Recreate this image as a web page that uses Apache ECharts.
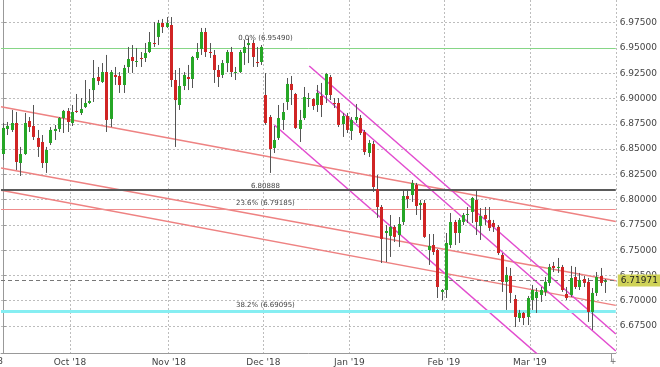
<!DOCTYPE html>
<html><head><meta charset="utf-8">
<script src="https://cdn.jsdelivr.net/npm/echarts@6/dist/echarts.min.js"></script>
<style>html,body{margin:0;padding:0;background:#fff}#c{width:660px;height:367px}</style>
</head><body><div id="c"></div>
<script>
// ---- calendar (trading days) ----
const firstDay = '2018-09-07';
const lastDay = '2019-03-28';
const holidays = ['2018-12-25', '2019-01-01'];
const monthNames = ['Jan','Feb','Mar','Apr','May','Jun','Jul','Aug','Sep','Oct','Nov','Dec'];

// ---- OHLC values (USD/CNH daily) ----
const open = [
6.8451,6.8699,6.8689,6.8758,6.8362,6.8451,6.8778,6.8728,6.8610,6.8570,6.8362,6.8560,6.8679,6.8699,6.8807,6.8877,
6.8758,6.8877,6.8857,6.8916,6.8956,6.9084,6.9213,6.9164,6.9262,6.8798,6.9233,6.9223,6.9134,6.9312,6.9411,6.9361,6.9401,6.9401,6.9460,6.9549,6.9609,6.9747,6.9707,
6.9727,6.9183,6.8936,6.9124,6.9213,6.9193,6.9401,6.9490,6.9658,6.9460,6.9431,6.9282,6.9233,6.9351,6.9460,6.9253,6.9262,6.9450,6.9529,6.9549,6.9361,6.9361,
6.9035,6.8817,6.8511,6.8610,6.8788,6.8966,6.9144,6.9045,6.8699,6.8807,6.8995,6.8995,6.8936,6.9025,6.9035,6.9213,6.8956,6.8956,6.8748,6.8827,
6.8679,6.8788,6.8807,6.8669,6.8461,6.8550,6.8105,6.7927,6.7670,6.7641,6.7730,6.7650,6.7779,6.8036,6.8046,6.8145,6.7947,6.7967,6.7502,6.7551,6.7502,6.7087,
6.7106,6.7551,6.7779,6.7670,6.7779,6.7848,6.7878,6.7997,6.7739,6.7848,6.7799,6.7769,6.7730,6.7453,6.7186,6.7245,6.7017,6.6829,6.6879,6.6839,
6.7007,6.7027,6.7057,6.7087,6.7176,6.7344,6.7324,6.7334,6.7067,6.7057,6.7235,6.7136,6.7215,6.7186,6.6889,6.7077,6.7245,6.7186
];
const close = [
6.8709,6.8729,6.8758,6.8372,6.8451,6.8758,6.8718,6.8620,6.8521,6.8362,6.8491,6.8689,6.8699,6.8807,6.8877,6.8768,
6.8867,6.8867,6.8896,6.8956,6.8976,6.9203,6.9173,6.9262,6.8788,6.9262,6.9213,6.9134,6.9302,6.9391,6.9371,6.9371,6.9391,6.9450,6.9559,6.9539,6.9747,6.9707,6.9747,
6.9183,6.8985,6.9124,6.9233,6.9193,6.9411,6.9460,6.9658,6.9460,6.9450,6.9282,6.9213,6.9351,6.9460,6.9262,6.9262,6.9460,6.9510,6.9549,6.9411,6.9351,6.9510,
6.8758,6.8501,6.8590,6.8807,6.8867,6.9144,6.9084,6.8709,6.8788,6.9015,6.9005,6.8926,6.9055,6.8936,6.9243,6.9035,6.8946,6.8738,6.8827,6.8689,
6.8788,6.8817,6.8659,6.8471,6.8560,6.8125,6.7927,6.7611,6.7690,6.7730,6.7631,6.7759,6.8036,6.8006,6.8165,6.7937,6.7967,6.7631,6.7542,6.7482,6.7136,6.7106,
6.7571,6.7779,6.7670,6.7799,6.7848,6.7858,6.8016,6.7779,6.7838,6.7809,6.7720,6.7730,6.7472,6.7186,6.7255,6.7077,6.6839,6.6879,6.6829,6.7027,
6.7106,6.7087,6.7106,6.7186,6.7334,6.7324,6.7334,6.7106,6.7027,6.7225,6.7136,6.7205,6.7176,6.6889,6.7077,6.7235,6.7176,6.71971
];
const high = [
6.8758,6.8768,6.8887,6.8867,6.8521,6.8857,6.8817,6.8936,6.8689,6.8639,6.8521,6.8718,6.8738,6.8817,6.8887,6.8906,
6.8936,6.9045,6.9005,6.9183,6.9094,6.9381,6.9312,6.9351,6.9431,6.9282,6.9312,6.9262,6.9332,6.9510,6.9529,6.9500,6.9460,6.9549,6.9658,6.9757,6.9777,6.9787,6.9806,
6.9806,6.9282,6.9302,6.9262,6.9332,6.9421,6.9549,6.9698,6.9698,6.9549,6.9480,6.9332,6.9381,6.9480,6.9510,6.9312,6.9480,6.9579,6.9599,6.9579,6.9510,6.9529,
6.9252,6.8837,6.8728,6.8936,6.8956,6.9203,6.9223,6.9055,6.8887,6.9114,6.9055,6.9005,6.9134,6.9154,6.9253,6.9233,6.9005,6.9005,6.8857,6.8857,
6.8817,6.8946,6.8837,6.8689,6.8590,6.8580,6.8244,6.7947,6.7749,6.7848,6.7749,6.7828,6.8095,6.8095,6.8194,6.8165,6.7997,6.7997,6.7660,6.7660,6.7512,6.7116,
6.7670,6.7868,6.7799,6.7818,6.7868,6.7927,6.8026,6.8095,6.7917,6.7927,6.7927,6.7799,6.7749,6.7472,6.7334,6.7324,6.7057,6.6909,6.6889,6.7047,
6.7156,6.7126,6.7136,6.7235,6.7364,6.7383,6.7423,6.7354,6.7136,6.7344,6.7334,6.7275,6.7245,6.7225,6.7126,6.7284,6.7324,6.7215
];
const low = [
6.8392,6.8639,6.8669,6.8293,6.8234,6.8442,6.8669,6.8590,6.8422,6.8313,6.8264,6.8540,6.8590,6.8669,6.8659,6.8669,
6.8728,6.8857,6.8837,6.8906,6.8946,6.8966,6.9134,6.9154,6.8669,6.8718,6.9134,6.9055,6.9055,6.9253,6.9253,6.9312,6.9312,6.9361,6.9450,6.9510,6.9529,6.9648,6.9698,
6.9114,6.8521,6.8887,6.9084,6.9084,6.9104,6.9381,6.9431,6.9411,6.9401,6.9154,6.9114,6.9203,6.9262,6.9213,6.9183,6.9253,6.9332,6.9351,6.9312,6.9312,6.9332,
6.8738,6.8264,6.8461,6.8590,6.8689,6.8887,6.8936,6.8699,6.8570,6.8788,6.8916,6.8887,6.8867,6.8817,6.8956,6.8985,6.8906,6.8718,6.8620,6.8659,
6.8590,6.8758,6.8639,6.8442,6.8422,6.8076,6.7819,6.7373,6.7383,6.7433,6.7581,6.7532,6.7749,6.7917,6.7977,6.7848,6.7799,6.7621,6.7354,6.7453,6.7027,6.7007,
6.7027,6.7522,6.7551,6.7571,6.7749,6.7769,6.7769,6.7650,6.7601,6.7749,6.7690,6.7680,6.7453,6.7087,6.6909,6.6978,6.6740,6.6790,6.6760,6.6760,
6.6909,6.6879,6.6988,6.7047,6.7146,6.7284,6.7275,6.7087,6.7007,6.7037,6.7116,6.7106,6.7136,6.6790,6.6711,6.7047,6.7146,6.7077
];

// ---- axis ----
const yMin = 6.6483, yMax = 6.99745;
const yTicks = [6.675,6.700,6.725,6.750,6.775,6.800,6.825,6.850,6.875,6.900,6.925,6.950,6.975];

// ---- drawn studies ----
const fibLevels = [
  { name: '0.0% (6.95490)', value: 6.95490 },
  { name: '6.80888', value: 6.80888 },
  { name: '23.6% (6.79185)', value: 6.79185 },
  { name: '38.2% (6.69095)', value: 6.69095 }
];
const lastPrice = 6.71971;
const dashedLevel = 6.7172;
const channelRed1 = [[-0.5, 6.8919], [142.5, 6.7784]];
const channelRed2 = [[-0.5, 6.8313], [142.5, 6.7198]];
const channelRed3 = [[-0.5, 6.8093], [142.5, 6.6954]];
const channelPink1 = [[71.2, 6.9322], [142.5, 6.6671]];
const channelPink2 = [[72.9, 6.9084], [142.5, 6.6503]];
const channelPink3 = [[63.1, 6.8738], [142.5, 6.5796]];

function tradingDays(a, b, skip) {
  const out = [];
  const d = new Date(a + 'T00:00:00Z'), end = new Date(b + 'T00:00:00Z');
  while (d <= end) {
    const wd = d.getUTCDay();
    const s = d.toISOString().slice(0, 10);
    if (wd !== 0 && wd !== 6 && skip.indexOf(s) < 0) out.push(s);
    d.setUTCDate(d.getUTCDate() + 1);
  }
  return out;
}
const categories = tradingDays(firstDay, lastDay, holidays);
const nCat = categories.length;
function isMonthStart(i) {
  return i > 0 && categories[i].slice(5, 7) !== categories[i - 1].slice(5, 7);
}
function monthLabel(v) {
  return monthNames[parseInt(v.slice(5, 7), 10) - 1] + " '" + v.slice(2, 4);
}

const FONT = 'DejaVu Sans';
const GREEN = '#26a626', RED = '#d02424', WICK = '#555';

const candleData = open.map((o, i) => [i, o, close[i], low[i], high[i]]);

function renderCandle(params, api) {
  const i = api.value(0);
  const o = api.value(1), c = api.value(2), l = api.value(3), h = api.value(4);
  const po = api.coord([i, o]), pc = api.coord([i, c]), pl = api.coord([i, l]), ph = api.coord([i, h]);
  const bw = Math.max(1, Math.round(api.size([1, 0])[0] * 0.7));
  const x = Math.round(po[0]);
  const top = Math.min(po[1], pc[1]), bot = Math.max(po[1], pc[1]);
  return {
    type: 'group',
    children: [
      { type: 'line', shape: { x1: x + 0.5, y1: ph[1], x2: x + 0.5, y2: pl[1] }, style: { stroke: WICK, lineWidth: 1 } },
      { type: 'rect', shape: { x: x + 0.5 - bw / 2, y: top, width: bw, height: Math.max(1, bot - top) }, style: { fill: c >= o ? GREEN : RED } }
    ]
  };
}

function trend(data, color, width) {
  return {
    type: 'line', xAxisIndex: 1, yAxisIndex: 0, data: data, symbol: 'none', silent: true,
    lineStyle: { color: color, width: width }, z: 3, clip: true
  };
}

const chart = echarts.init(document.getElementById('c'), null, { renderer: 'canvas' });
chart.setOption({
  animation: false,
  backgroundColor: '#fff',
  grid: { left: 1, right: 43, top: 0, bottom: 14, containLabel: false },
  xAxis: [{
    type: 'category', data: categories, boundaryGap: true,
    axisLine: { lineStyle: { color: '#999' } },
    axisTick: { show: false },
    axisLabel: {
      interval: (i) => isMonthStart(i), formatter: monthLabel,
      fontFamily: FONT, fontSize: 9, color: '#444', margin: 5, padding: [0, 4, 0, 0]
    },
    splitLine: { show: true, interval: (i) => isMonthStart(i), lineStyle: { color: '#bdbdbd', type: [2, 2] } }
  }, {
    type: 'value', min: -0.5, max: nCat - 0.5, show: false
  }],
  yAxis: [{
    type: 'value', position: 'right', min: yMin, max: yMax, scale: true,
    axisLine: { show: true, lineStyle: { color: '#999' } },
    axisTick: { show: true, length: 3, customValues: yTicks, lineStyle: { color: '#999' } },
    axisLabel: { customValues: yTicks, formatter: (v) => v.toFixed(5), fontFamily: FONT, fontSize: 9, color: '#444', margin: 4 },
    splitLine: { show: true, lineStyle: { color: '#bdbdbd', type: [2, 2] } }
  }],
  series: [
    {
      type: 'line', xAxisIndex: 0, yAxisIndex: 0, data: [], silent: true, z: 2,
      markLine: {
        silent: true, symbol: ['none', 'none'], animation: false,
        label: { show: false },
        data: [
          { yAxis: fibLevels[0].value, lineStyle: { color: '#86d686', width: 1, type: 'solid' } },
          { yAxis: fibLevels[1].value, lineStyle: { color: '#5a5a5a', width: 2, type: 'solid' } },
          { yAxis: fibLevels[2].value, lineStyle: { color: '#ee8c8c', width: 1, type: 'solid' } },
          { yAxis: fibLevels[3].value, lineStyle: { color: '#86eef2', width: 3, type: 'solid' } },
          { yAxis: dashedLevel, lineStyle: { color: '#777', width: 1, type: [4, 3] } }
        ]
      },
      markPoint: {
        silent: true, symbol: 'circle', symbolSize: 0, animation: false,
        label: { show: true, position: 'top', distance: 1, formatter: (p) => p.name, color: '#444', fontFamily: FONT, fontSize: 7 },
        data: fibLevels.map((l) => ({ name: l.name, coord: [categories[61], l.value] }))
      }
    },
    {
      type: 'line', xAxisIndex: 0, yAxisIndex: 0, data: [], silent: true, z: 10,
      markLine: {
        silent: true, symbol: ['none', 'none'], animation: false,
        data: [
          { yAxis: lastPrice, lineStyle: { color: 'rgba(0,0,0,0)', width: 0 },
            label: { show: true, position: 'end', formatter: lastPrice.toFixed(5), distance: 2,
              backgroundColor: '#cfd257', color: '#222', padding: [2, 3, 1, 3], fontFamily: FONT, fontSize: 9 } }
        ]
      }
    },
    trend(channelRed1, '#ee8282', 1.5),
    trend(channelRed2, '#ee8282', 1.5),
    trend(channelRed3, '#ee8282', 1.5),
    trend(channelPink1, '#e24ccf', 1.5),
    trend(channelPink2, '#e24ccf', 1.5),
    trend(channelPink3, '#e24ccf', 1.5),
    {
      type: 'custom', xAxisIndex: 0, yAxisIndex: 0, data: candleData, renderItem: renderCandle,
      encode: { x: 0, y: [1, 2, 3, 4] }, z: 5, clip: true, silent: true
    }
  ],
  graphic: [
    { type: 'text', x: 3, y: 357, style: { text: "Sep '18", fill: '#444', font: '9px "DejaVu Sans"', textAlign: 'right', textVerticalAlign: 'top' } },
    { type: 'line', shape: { x1: 611.5, y1: 353, x2: 611.5, y2: 361 }, style: { stroke: '#999', lineWidth: 1 } },
    { type: 'text', x: 613, y: 358, style: { text: '+', fill: '#666', font: '8px "DejaVu Sans"', textAlign: 'center', textVerticalAlign: 'top' } }
  ]
});
</script>
</body></html>
